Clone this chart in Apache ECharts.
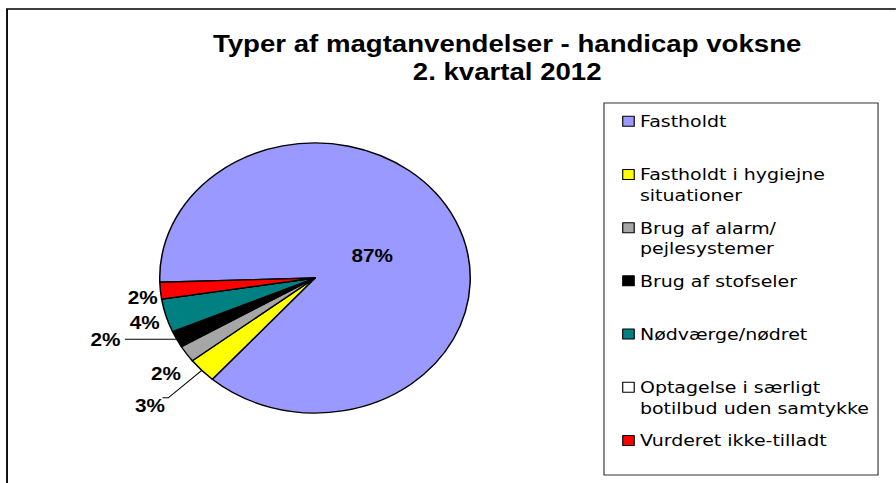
<!DOCTYPE html>
<html><head><meta charset="utf-8">
<script src="https://cdn.jsdelivr.net/npm/echarts@6/dist/echarts.min.js"></script>
<style>
html,body{margin:0;padding:0;background:#fff;overflow:hidden;}
#wrap{width:896px;height:483px;overflow:hidden;position:relative;}
#c{width:779px;height:483px;transform:scaleX(1.15);transform-origin:0 0;}
</style></head><body>
<div id="wrap"><div id="c"></div></div>
<script>
// ---- data ----
const titleText = 'Typer af magtanvendelser - handicap voksne\n2. kvartal 2012';
const categories = [
  'Fastholdt',
  'Fastholdt i hygiejne\nsituationer',
  'Brug af alarm/\npejlesystemer',
  'Brug af stofseler',
  'Nødværge/nødret',
  'Optagelse i særligt\nbotilbud uden samtykke',
  'Vurderet ikke-tilladt'
];
const values = [87, 3, 2, 2, 4, 0, 2];
const colors = ['#9999FF', '#FFFF00', '#A6A6A6', '#000000', '#008080', '#FFFFFF', '#FF0000'];

// ---- label line settings and label nudges per slice (style, not data) ----
const labelLineCfg = [
  {show: false},
  {show: true, length: 40, length2: 5},
  {show: false, length: 18, length2: 0},
  {show: true, length: 0, length2: 45},
  {show: false, length: 0, length2: 0},
  {show: false, length: 0, length2: 0},
  {show: false, length: 0, length2: 0}
];
const labelNudge = [[-14, 8], [6, 8], [14, 10], null, [-1.5, 7], null, [1.5, 6.5]];

const chart = echarts.init(document.getElementById('c'), null, {renderer: 'svg'});
const data = categories.map((name, i) => {
  const item = {
    name: name,
    value: values[i],
    itemStyle: {color: colors[i]},
    labelLine: labelLineCfg[i]
  };
  if (i === 0) item.label = {position: 'inside'};
  return item;
});

chart.setOption({
  animation: false,
  backgroundColor: '#fff',
  title: {
    text: titleText,
    left: 436,
    top: 25,
    textAlign: 'center',
    textStyle: {fontFamily: 'Liberation Sans', fontWeight: 'bold', fontSize: 24, lineHeight: 28, color: '#000'}
  },
  graphic: [
    {type: 'rect', silent: true, z: -1, shape: {x: 6.1, y: 9, width: 900, height: 600},
     style: {fill: 'none', stroke: '#000', lineWidth: 1.6}},
    {type: 'rect', silent: true, z: -1, shape: {x: 525.2, y: 103, width: 238.3, height: 372},
     style: {fill: 'none', stroke: '#333', lineWidth: 1}}
  ],
  legend: {
    orient: 'vertical',
    left: 541,
    top: 90.5,
    padding: 0,
    itemGap: -8.3,
    itemWidth: 10,
    itemHeight: 10,
    icon: 'rect',
    selectedMode: false,
    itemStyle: {borderColor: '#000', borderWidth: 1},
    formatter: name => name.indexOf('\n') >= 0 ? '\n' + name : '\n' + name + '\n',
    textStyle: {fontFamily: 'DejaVu Sans', fontSize: 16.5, lineHeight: 20.5, color: '#000'}
  },
  series: [{
    type: 'pie',
    center: [273.9, 278],
    radius: 135,
    startAngle: 181.8,
    clockwise: true,
    avoidLabelOverlap: false,
    emphasis: {disabled: true},
    itemStyle: {borderColor: '#000', borderWidth: 1.3},
    label: {
      position: 'outside',
      formatter: p => p.value === 0 ? '' : p.value + '%',
      fontFamily: 'Liberation Sans', fontWeight: 'bold', fontSize: 18, color: '#000',
      distanceToLabelLine: 4
    },
    labelLine: {lineStyle: {color: '#000', width: 1}},
    labelLayout: p => {
      const n = labelNudge[p.dataIndex];
      return n ? {dx: n[0], dy: n[1]} : {};
    },
    data: data
  }]
});
</script>
</body></html>
